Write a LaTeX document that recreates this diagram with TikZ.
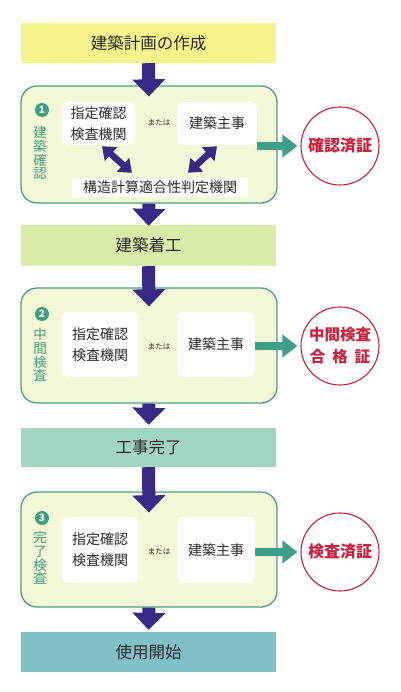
\documentclass[tikz,border=0pt]{standalone}
\usepackage{fontspec}
\setmainfont{Noto Sans CJK JP}
\usetikzlibrary{arrows.meta,calc}
\definecolor{yelc}{HTML}{F6F38C}
\definecolor{grnc}{HTML}{D8ECA8}
\definecolor{tealbox}{HTML}{A2D4C2}
\definecolor{bluebox}{HTML}{80C1C8}
\definecolor{procfill}{HTML}{F3F8D6}
\definecolor{procline}{HTML}{4F9C84}
\definecolor{arrowc}{HTML}{3A2887}
\definecolor{tealc}{HTML}{3F9E88}
\definecolor{redc}{HTML}{CC1F3C}
\definecolor{txtc}{HTML}{2B2B2B}
\definecolor{labc}{HTML}{3E9E80}
\begin{document}
\begin{tikzpicture}[x=1pt,y=-1pt,
  stagebox/.style={draw=none, minimum width=255pt, minimum height=40pt, inner sep=0pt,
    text=txtc, font=\fontsize{16.5}{18}\selectfont},
  procbox/.style={draw=procline, line width=1.3pt, fill=procfill, rounded corners=16pt,
    minimum width=256pt, inner sep=0pt},
  whitebox/.style={fill=white, draw=none, rounded corners=5pt, inner sep=0pt, text=txtc,
    align=center, font=\fontsize{14}{21}\selectfont},
  ormark/.style={text=txtc, font=\fontsize{7.5}{9}\selectfont, inner sep=0pt},
  numc/.style={circle, fill=labc, text=white, inner sep=0pt, minimum size=14pt,
    font=\bfseries\fontsize{10}{10}\selectfont},
  vlab/.style={text=labc, align=center, inner sep=0pt, font=\fontsize{13.5}{13.8}\selectfont},
  certc/.style={circle, draw=redc, line width=1.1pt, fill=white, minimum size=78pt,
    inner sep=0pt, text=redc, align=center, font=\bfseries\fontsize{16}{22}\selectfont},
  bigarrow/.style={draw=arrowc, line width=13pt, -{Triangle[width=32pt,length=17pt]}},
  dblarrow/.style={draw=arrowc, line width=6.5pt,
    {Triangle[width=18pt,length=12pt]}-{Triangle[width=18pt,length=12pt]}},
  tealarrow/.style={draw=tealc, line width=8pt, -{Triangle[width=22pt,length=15pt]}}
]
\fill[white] (0,0) rectangle (400,692);
\useasboundingbox (0,0) rectangle (400,692);

% stage boxes
\node[stagebox, fill=yelc] (top) at (148.5,43) {建築計画の作成};
\node[stagebox, fill=grnc, minimum height=41pt] (start) at (148.5,245.5) {建築着工};
\node[stagebox, fill=tealbox, minimum height=39pt] (done) at (148.5,447.5) {工事完了};
\node[stagebox, fill=bluebox, minimum height=40pt] (use) at (148.5,652) {使用開始};

% process 1
\node[procbox, minimum height=117pt] (p1) at (149,144.5) {};
\node[whitebox, minimum width=73pt, minimum height=43pt] (l1) at (98.5,123.5) {指定確認\\検査機関};
\node[whitebox, minimum width=80pt, minimum height=43pt] (r1) at (217,123.5) {建築主事};
\node[ormark] (o1) at (159,123) {または};
\node[whitebox, rounded corners=0pt, minimum width=176pt, minimum height=19pt,
  font=\fontsize{14}{16}\selectfont] (k1) at (160,187.5) {構造計算適合性判定機関};
\node[numc] (n1) at (42,110) {1};
\node[vlab] (v1) at (40,153) {建\\築\\確\\認};
\node[certc] (c1) at (340,146) {確認済証};

% process 2
\node[procbox, minimum height=115pt] (p2) at (149,345.5) {};
\node[whitebox, minimum width=76pt, minimum height=65pt] (l2) at (100,344.5) {指定確認\\検査機関};
\node[whitebox, minimum width=78pt, minimum height=65pt] (r2) at (216,344.5) {建築主事};
\node[ormark] (o2) at (159,347) {または};
\node[numc] (n2) at (42,314) {2};
\node[vlab] (v2) at (40,355) {中\\間\\検\\査};
\node[certc, font=\bfseries\fontsize{15.5}{22}\selectfont] (c2) at (340,346) {中間検査\\合\hspace{0.45em}格\hspace{0.45em}証};

% process 3
\node[procbox, minimum height=115pt] (p3) at (149,549.5) {};
\node[whitebox, minimum width=76pt, minimum height=66pt] (l3) at (100,550) {指定確認\\検査機関};
\node[whitebox, minimum width=78pt, minimum height=66pt] (r3) at (216,550) {建築主事};
\node[ormark] (o3) at (159,552) {または};
\node[numc] (n3) at (42,518) {3};
\node[vlab] (v3) at (40,558) {完\\了\\検\\査};
\node[certc] (c3) at (340,552) {検査済証};

% main flow arrows
\draw[bigarrow] (top.south) -- ([yshift=-11pt]p1.north);
\draw[bigarrow] (p1.south) -- ([yshift=-1pt]start.north);
\draw[bigarrow] (start.south) -- ([yshift=-19pt]p2.north);
\draw[bigarrow] (p2.south) -- ([yshift=3pt]done.north);
\draw[bigarrow] (done.south) -- ([yshift=-21pt]p3.north);
\draw[bigarrow] (p3.south) -- ([yshift=2pt]use.north);

% double arrows
\draw[dblarrow] ([xshift=3.5pt,yshift=-1pt]l1.south) -- ([xshift=-28pt,yshift=5pt]k1.north);
\draw[dblarrow] ([yshift=-1pt]r1.south) -- ([xshift=28pt,yshift=5pt]k1.north);

% certificate arrows
\draw[tealarrow] (r1.east |- c1.west) -- ([xshift=-3pt]c1.west);
\draw[tealarrow] (r2.east |- c2.west) -- ([xshift=-3pt]c2.west);
\draw[tealarrow] (r3.east |- c3.west) -- ([xshift=-3pt]c3.west);
\end{tikzpicture}
\end{document}
